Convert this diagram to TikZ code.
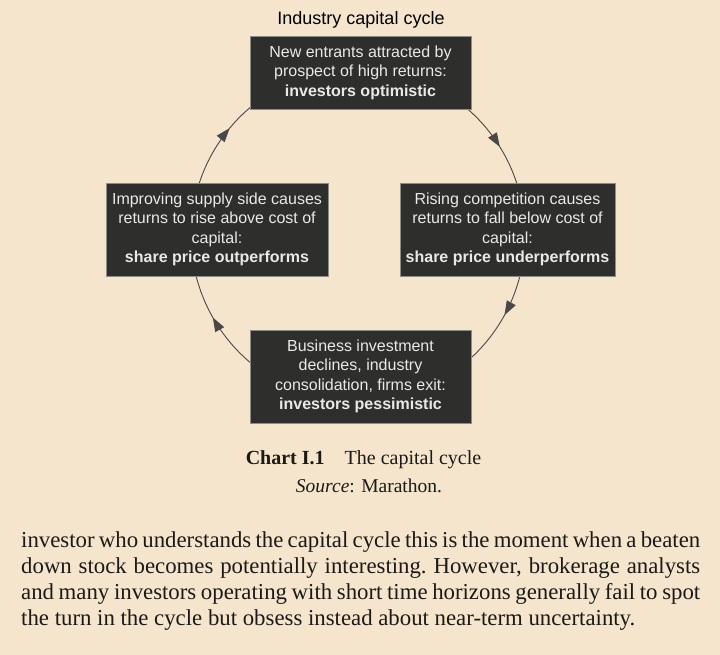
\documentclass[tikz,border=0pt]{standalone}
\usepackage{fontspec}
\setmainfont{Liberation Serif}
\setsansfont{Liberation Sans}
\usetikzlibrary{arrows.meta,decorations.markings}
\definecolor{paper}{HTML}{F4E5CC}
\definecolor{boxfill}{HTML}{2E2E2D}
\definecolor{boxline}{HTML}{8C8C8C}
\definecolor{boxtext}{HTML}{E9E9E9}
\definecolor{ink}{HTML}{1C1A18}
\definecolor{arcline}{HTML}{4A4846}
\begin{document}
\begin{tikzpicture}[x=1pt,y=1pt,
    stage/.style={draw=boxline,line width=0.8pt,fill=boxfill,text=boxtext,align=center,
        font=\sffamily\fontsize{16}{19.5}\selectfont,inner sep=0pt,minimum height=93pt},
    flow/.style={arcline,line width=0.9pt,decoration={markings,
        mark=at position #1 with {\arrow{Triangle[length=14pt,width=10pt]}}},postaction=decorate}]
    % Page
    \fill[paper] (0,0) rectangle (720,655);
    \useasboundingbox (0,0) rectangle (720,655);

    % Cycle Coordinates
    \coordinate (hub) at (358,420);
    \def\rad{167}

    % Arcs
    \foreach \a/\b/\p in {52/16/0.56, -12/-49/0.45, 232/192/0.56, 164/128/0.66}
        \draw[flow=\p] ([shift={(\a:\rad)}]hub) arc[start angle=\a, end angle=\b, radius=\rad];

    % Stages
    \node[stage,minimum width=221pt,minimum height=73pt] (boom) at (360.5,582.5)
        {New entrants attracted by\\prospect of high returns:\\\textbf{investors optimistic}};
    \node[stage,minimum width=215pt] (fall) at (507.5,425.5)
        {Rising competition causes\\returns to fall below cost of\\capital:\\\textbf{share price underperforms}};
    \node[stage,minimum width=221pt] (bust) at (360.5,278.5)
        {Business investment\\declines, industry\\consolidation, firms exit:\\\textbf{investors pessimistic}};
    \node[stage,minimum width=222pt] (rise) at (217,425.5)
        {Improving supply side causes\\returns to rise above cost of\\capital:\\\textbf{share price outperforms}};

    % Text
    \node[anchor=base,font=\sffamily\fontsize{18}{20}\selectfont] (title) at (361,630) {Industry capital cycle};
    \node[anchor=base,text=ink,font=\fontsize{20}{24}\selectfont] (chart) at (363.5,190)
        {\textbf{Chart I.1}\hspace{20pt}The capital cycle};
    \node[anchor=base,text=ink,font=\fontsize{19.5}{22}\selectfont] (source) at (369,162)
        {\textit{Source}: Marathon.};
    \node[anchor=base west,inner sep=0pt,text=ink,font=\fontsize{22.8}{26}\selectfont] (body) at (21,107)
        {\parbox[t]{679pt}{\frenchspacing\hyphenpenalty=10000 \spaceskip=0.25em plus 0.5em minus 0.14em
        investor who understands the capital cycle this is the moment when a beaten\linebreak
        down stock becomes potentially interesting. However, brokerage analysts\linebreak
        and many investors operating with short time horizons generally fail to spot\linebreak
        the turn in the cycle but obsess instead about near-term uncertainty.}};
\end{tikzpicture}
\end{document}
